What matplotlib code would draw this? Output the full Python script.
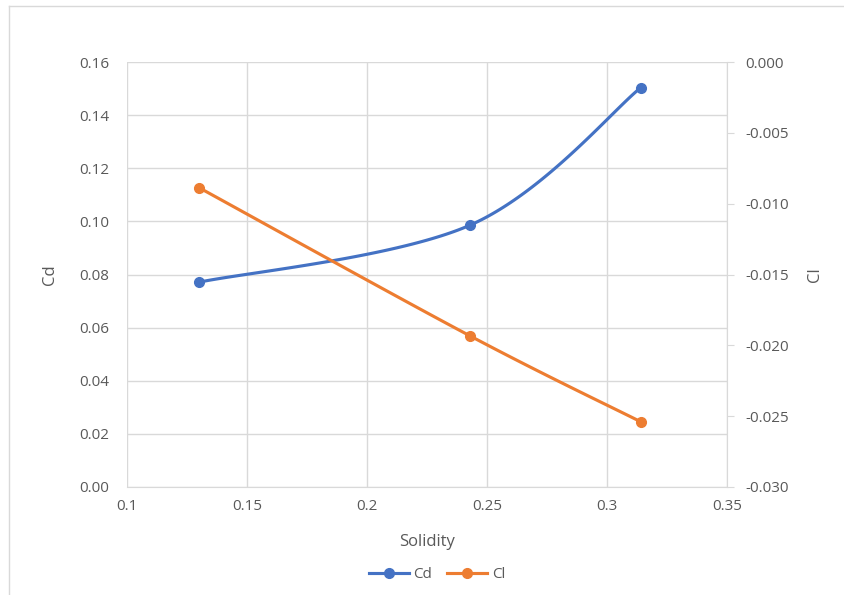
import numpy as np
import matplotlib
matplotlib.use("Agg")
import matplotlib.pyplot as plt
from matplotlib.lines import Line2D

solidity = [0.130, 0.243, 0.314]
cd_values = [0.0771, 0.0986, 0.1503]
cl_values = [-0.00887, -0.01934, -0.02539]

x_ticks = [0.1, 0.15, 0.2, 0.25, 0.3, 0.35]
cd_ticks = [0.00, 0.02, 0.04, 0.06, 0.08, 0.10, 0.12, 0.14, 0.16]
cl_ticks = [-0.030, -0.025, -0.020, -0.015, -0.010, -0.005, 0.000]

BLUE = "#4472C4"
ORANGE = "#ED7D31"
TEXT = "#595959"
GRID = "#D9D9D9"

plt.rcParams["font.family"] = ["Open Sans", "DejaVu Sans"]
plt.rcParams["font.size"] = 11


def smooth_path(ax, xs, ys, n=60):
    """Bezier smoothing computed in display space (Catmull-Rom style)."""
    pts = ax.transData.transform(np.column_stack([xs, ys]))
    m = len(pts)
    out = [pts[0]]
    for i in range(m - 1):
        p0 = pts[i - 1] if i > 0 else pts[i]
        p1 = pts[i]
        p2 = pts[i + 1]
        p3 = pts[i + 2] if i + 2 < m else pts[i + 1]
        c1 = p1 + (p2 - p0) / 6.0
        c2 = p2 - (p3 - p1) / 6.0
        t = np.linspace(0, 1, n)[1:, None]
        seg = ((1 - t) ** 3) * p1 + 3 * ((1 - t) ** 2) * t * c1 \
            + 3 * (1 - t) * t ** 2 * c2 + t ** 3 * p2
        out.extend(seg)
    out = np.array(out)
    return ax.transData.inverted().transform(out)


fig = plt.figure(figsize=(8.45, 5.95), dpi=100)
ax = fig.add_axes([127 / 845, 1 - 487 / 595, 600 / 845, 425 / 595])
ax2 = ax.twinx()

ax.set_xlim(0.1, 0.35)
ax.set_ylim(0, 0.16)
ax2.set_ylim(-0.030, 0.0)

ax.set_xticks(x_ticks)
ax.set_xticklabels([f"{v:g}" for v in x_ticks])
ax.set_yticks(cd_ticks)
ax.set_yticklabels([f"{v:.2f}" for v in cd_ticks])
ax2.set_yticks(cl_ticks)
ax2.set_yticklabels([f"{v:.3f}" for v in cl_ticks])

ax.grid(True, color=GRID, linewidth=1.0)
ax.set_axisbelow(True)
for a in (ax, ax2):
    for s in a.spines.values():
        s.set_visible(False)
ax.spines["bottom"].set_visible(True)
ax.spines["bottom"].set_color(GRID)
ax2.spines["right"].set_visible(True)
ax2.spines["right"].set_color(GRID)

ax.tick_params(axis="both", length=0, colors=TEXT, labelsize=11)
ax.tick_params(axis="x", pad=9)
ax.tick_params(axis="y", pad=13)
ax2.tick_params(axis="y", length=5, color=GRID, colors=TEXT, labelsize=11, pad=8)
ax2.tick_params(axis="y", color=GRID)

ax.set_xlabel("Solidity", color=TEXT, fontsize=12, labelpad=14)
ax.set_ylabel("Cd", color=TEXT, fontsize=12, labelpad=15)
ax2.set_ylabel("Cl", color=TEXT, fontsize=12, labelpad=13, rotation=90)

fig.canvas.draw()

cd_curve = smooth_path(ax, solidity, cd_values)
cl_curve = smooth_path(ax2, solidity, cl_values)
ax.plot(cd_curve[:, 0], cd_curve[:, 1], color=BLUE, lw=2.25, solid_capstyle="round", zorder=3)
ax.plot(solidity, cd_values, "o", color=BLUE, ms=7, zorder=4)
ax2.plot(cl_curve[:, 0], cl_curve[:, 1], color=ORANGE, lw=2.25, solid_capstyle="round", zorder=3)
ax2.plot(solidity, cl_values, "o", color=ORANGE, ms=7, zorder=4)

handles = [
    Line2D([0], [0], color=BLUE, lw=2.25, marker="o", ms=7),
    Line2D([0], [0], color=ORANGE, lw=2.25, marker="o", ms=7),
]
fig.legend(handles, ["Cd", "Cl"], loc="center", bbox_to_anchor=(437 / 845, 1 - 575 / 595),
           ncol=2, frameon=False, fontsize=11, labelcolor=TEXT,
           handlelength=2.6, handletextpad=0.3, columnspacing=1.0)

# chart area outline
fig.add_artist(Line2D([9 / 845, 9 / 845], [0, 1 - 6 / 595], transform=fig.transFigure,
                      color=GRID, lw=1.0))
fig.add_artist(Line2D([9 / 845, 1], [1 - 6 / 595, 1 - 6 / 595], transform=fig.transFigure,
                      color=GRID, lw=1.0))

fig.savefig("out.png", dpi=100)
